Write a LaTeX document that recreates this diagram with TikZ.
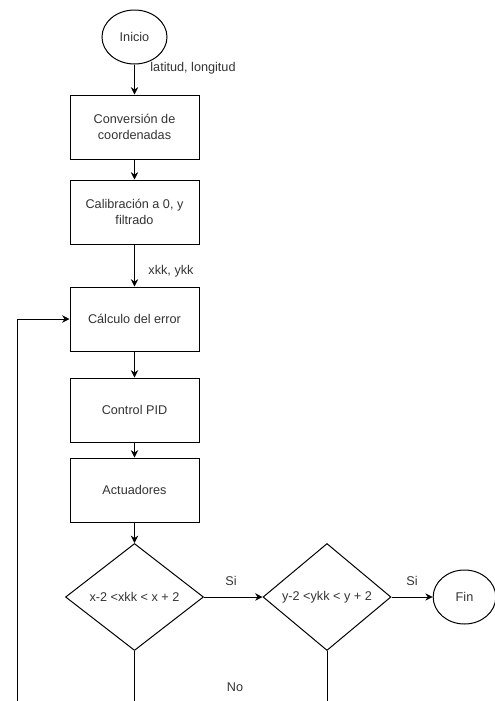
\documentclass[tikz,border=0pt]{standalone}
\usepackage{fontspec}
\setmainfont{Liberation Sans}
\usetikzlibrary{shapes.geometric,arrows.meta}
\definecolor{txt}{HTML}{333333}
\begin{document}
\begin{tikzpicture}[x=0.75pt,y=-0.75pt,
  font=\fontsize{9.5}{11.5}\selectfont,
  every node/.style={text=txt},
  stepbox/.style={draw=black, line width=0.75pt, rectangle, minimum width=96.75pt, minimum height=48pt, align=center, inner sep=2pt},
  term/.style={draw=black, line width=0.75pt, ellipse, minimum width=48.75pt, minimum height=40.5pt, inner sep=0pt},
  dia/.style={draw=black, line width=0.75pt, diamond, inner sep=0pt, minimum height=80.25pt},
  arr/.style={-{Stealth[length=5.5pt,width=5.5pt,inset=1.8pt]}, line width=0.75pt, draw=black},
  plain/.style={line width=0.75pt, draw=black}
]
\useasboundingbox (0,0) rectangle (494,701);

\node[term] (ini) at (134.5,37) {Inicio};
\node[stepbox] (b1) at (134.5,127) {Conversión de\\coordenadas};
\node[stepbox] (b2) at (134.5,212) {Calibración a 0, y\\filtrado};
\node[stepbox] (b3) at (134.5,319) {Cálculo del error};
\node[stepbox] (b4) at (134.5,410) {Control PID};
\node[stepbox] (b5) at (134.5,490) {Actuadores};
\node[dia, minimum width=103.5pt, label={[text=txt]center:x-2 <xkk < x + 2}] (d1) at (134.5,597) {};
\node[dia, minimum width=96pt, label={[text=txt]center:y-2 <ykk < y + 2}] (d2) at (327,597) {};
\node[term, minimum width=47pt] (fin) at (464.5,597) {Fin};

\node (l1) at (193,68) {latitud, longitud};
\node (l2) at (171,271) {xkk, ykk};
\node (si1) at (231,581) {Si};
\node (si2) at (412,581) {Si};
\node (no) at (235,687) {No};

\coordinate (e1) at (134.5,702);
\coordinate (e2) at (327,702);
\coordinate (lp1) at (17,702);
\coordinate (lp2) at (17,319);

\draw[arr] (ini) -- (b1);
\draw[arr] (b1) -- (b2);
\draw[arr] (b2) -- (b3);
\draw[arr] (b3) -- (b4);
\draw[arr] (b4) -- (b5);
\draw[arr] (b5) -- (d1);
\draw[arr] (d1) -- (d2);
\draw[arr] (d2) -- (fin);
\draw[plain] (d1.south) -- (e1);
\draw[plain] (d2.south) -- (e2);
\draw[arr] (lp1) -- (lp2) -- (b3.west);
\end{tikzpicture}
\end{document}
